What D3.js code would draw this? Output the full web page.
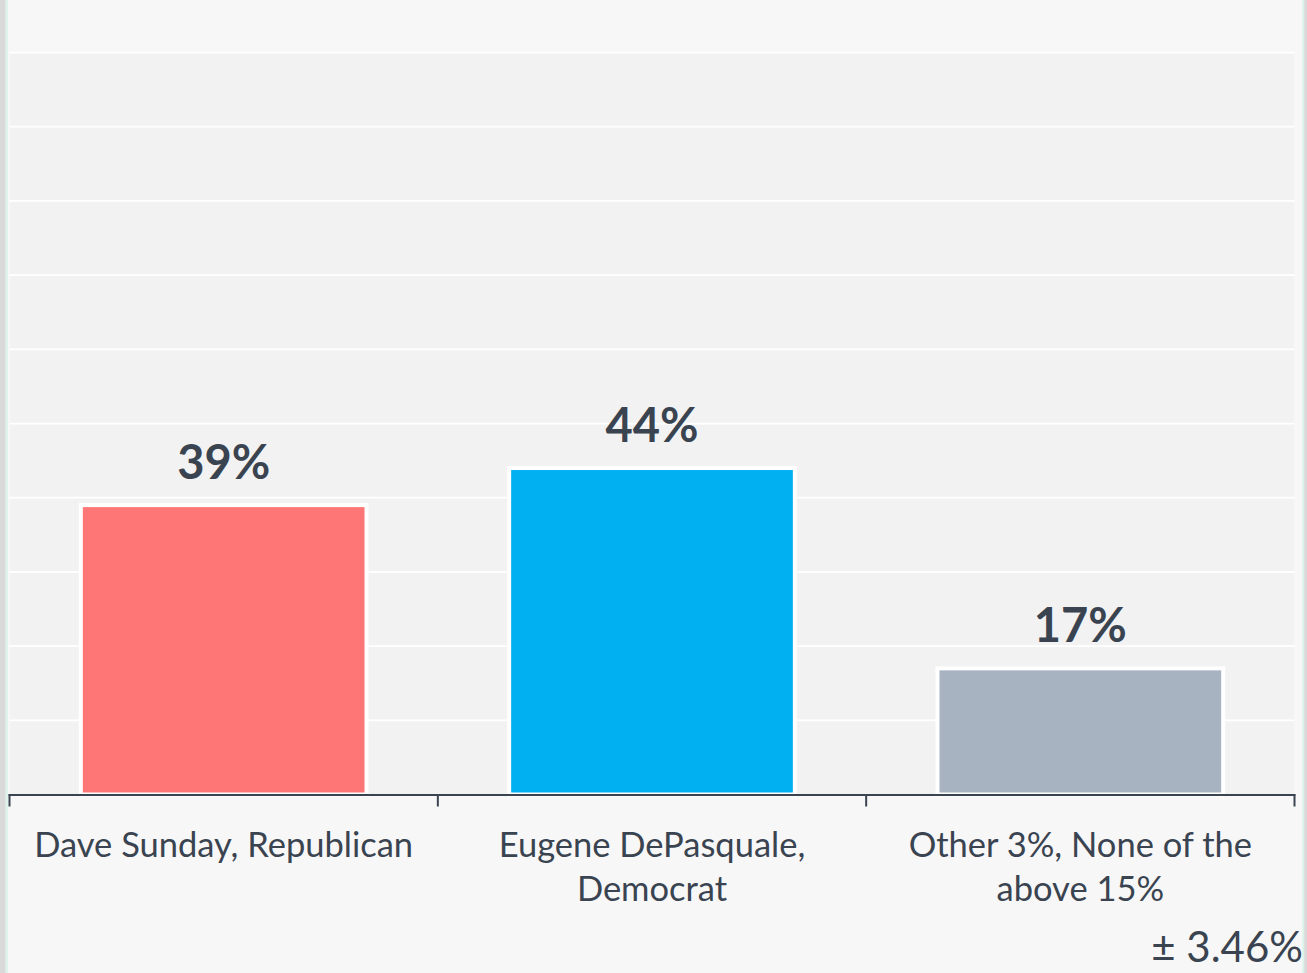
<!DOCTYPE html>
<html>
<head>
<meta charset="utf-8">
<script src="https://cdn.jsdelivr.net/npm/d3@7"></script>
<style>
  html, body { margin: 0; padding: 0; background: #f7f7f7; }
  svg { display: block; }
</style>
</head>
<body>
<svg id="chart" width="1307" height="973"></svg>
<script>
// Poll result: share of vote by candidate
const categories = ["Dave Sunday, Republican", "Eugene DePasquale, Democrat", "Other 3%, None of the above 15%"];
const values = [39, 44, 17];
const barColors = ["#ff7676", "#00b0f0", "#a7b3c1"];
const yTicks = [0, 10, 20, 30, 40, 50, 60, 70, 80, 90, 100];
const marginNote = "± 3.46%";

const W = 1307, H = 973;
const plot = { left: 9.5, right: 1294.5, top: 52.5, bottom: 794.5 };
const textColor = "#3a4451";

const svg = d3.select("#chart");

// page frame: grey rule and mint line on each side
svg.append("rect").attr("x", 0).attr("y", 0).attr("width", W).attr("height", H).attr("fill", "#f7f7f7");
svg.append("rect").attr("x", 0).attr("y", 0).attr("width", 5.7).attr("height", H).attr("fill", "#d9d9d9");
svg.append("rect").attr("x", 5.7).attr("y", 0).attr("width", 2.3).attr("height", H).attr("fill", "#dcf3ea");
svg.append("rect").attr("x", 1302.3).attr("y", 0).attr("width", 2).attr("height", H).attr("fill", "#dcf3ea");
svg.append("rect").attr("x", 1304.3).attr("y", 0).attr("width", 2.7).attr("height", H).attr("fill", "#d9d9d9");

const x = d3.scaleBand()
  .domain(categories)
  .range([plot.left, plot.right])
  .paddingInner(0.333)
  .paddingOuter(0.1665);

const y = d3.scaleLinear().domain([0, 100]).range([plot.bottom, plot.top]);

// plot area background
svg.append("rect")
  .attr("x", plot.left + 0.5).attr("y", plot.top)
  .attr("width", plot.right - plot.left - 1).attr("height", plot.bottom - plot.top)
  .attr("fill", "#f2f2f2");

// horizontal gridlines
svg.append("g")
  .selectAll("line")
  .data(yTicks.filter(d => d > 0))
  .join("line")
  .attr("x1", plot.left).attr("x2", plot.right)
  .attr("y1", d => y(d)).attr("y2", d => y(d))
  .attr("stroke", "#ffffff")
  .attr("stroke-width", 1.75);

// bars with white outline
svg.append("g")
  .selectAll("rect")
  .data(categories)
  .join("rect")
  .attr("x", d => x(d))
  .attr("y", (d, i) => y(values[i]))
  .attr("width", x.bandwidth())
  .attr("height", (d, i) => y(0) - y(values[i]))
  .attr("fill", (d, i) => barColors[i])
  .attr("stroke", "#ffffff")
  .attr("stroke-width", 4);

// value labels
svg.append("g")
  .selectAll("text")
  .data(categories)
  .join("text")
  .attr("x", d => x(d) + x.bandwidth() / 2)
  .attr("y", (d, i) => y(values[i]) - 26)
  .attr("text-anchor", "middle")
  .attr("font-family", "Lato, 'Open Sans', sans-serif")
  .attr("font-weight", 700)
  .attr("font-size", 47)
  .attr("fill", textColor)
  .text((d, i) => values[i] + "%");

// category axis: ticks on band boundaries
const boundaries = categories.map(d => x(d) - x.step() * x.paddingInner() / 2);
boundaries.push(plot.right);
boundaries[0] = plot.left;
const axisG = svg.append("g");
axisG.append("line")
  .attr("x1", plot.left - 1).attr("x2", plot.right + 1)
  .attr("y1", y(0) + 0.5).attr("y2", y(0) + 0.5)
  .attr("stroke", textColor).attr("stroke-width", 2);
axisG.selectAll("line.tick")
  .data(boundaries)
  .join("line")
  .attr("class", "tick")
  .attr("x1", d => d).attr("x2", d => d)
  .attr("y1", y(0)).attr("y2", y(0) + 12)
  .attr("stroke", textColor).attr("stroke-width", 2);

// category labels, wrapped to the band
const labelFont = 34.5;
const labels = svg.append("g")
  .selectAll("text")
  .data(categories)
  .join("text")
  .attr("x", d => x(d) + x.bandwidth() / 2)
  .attr("y", 857)
  .attr("text-anchor", "middle")
  .attr("font-family", "Lato, 'Open Sans', sans-serif")
  .attr("font-size", labelFont)
  .attr("fill", textColor);

function wrap(sel, maxWidth, lineHeight) {
  sel.each(function(d) {
    const t = d3.select(this);
    const cx = t.attr("x");
    const words = d.split(/\s+/);
    t.text(null);
    let line = [];
    let tspan = t.append("tspan").attr("x", cx).attr("dy", 0);
    for (const w of words) {
      line.push(w);
      tspan.text(line.join(" "));
      if (tspan.node().getComputedTextLength() > maxWidth && line.length > 1) {
        line.pop();
        tspan.text(line.join(" "));
        line = [w];
        tspan = t.append("tspan").attr("x", cx).attr("dy", lineHeight).text(w);
      }
    }
  });
}
wrap(labels, 410, 44);

// margin of error note
svg.append("text")
  .attr("x", 1303)
  .attr("y", 962)
  .attr("text-anchor", "end")
  .attr("font-family", "Lato, 'Open Sans', sans-serif")
  .attr("font-size", 42)
  .attr("fill", textColor)
  .text(marginNote);
</script>
</body>
</html>
